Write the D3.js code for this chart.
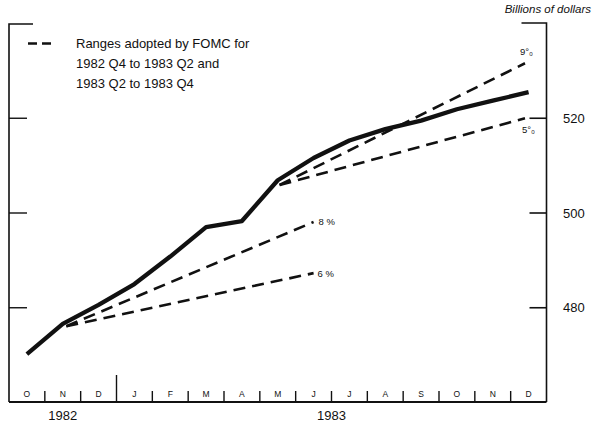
<!DOCTYPE html>
<html>
<head>
<meta charset="utf-8">
<script src="https://cdn.jsdelivr.net/npm/d3@7"></script>
<style>
  html, body { margin: 0; padding: 0; background: #fff; }
  svg { display: block; font-family: "Liberation Sans", Arial, Helvetica, sans-serif; }
</style>
</head>
<body>
<svg id="chart" width="594" height="427"></svg>
<script>
// ---- data ----
const months = ["O","N","D","J","F","M","A","M","J","J","A","S","O","N","D"];
const yearLabels = ["1982", "1983"];
const yearStart = [0, 3];
const yearEnd = [3, 15];
const m1Values = [470.1, 476.5, 480.5, 484.9, 490.7, 496.9, 498.2, 506.8, 511.5, 515.2, 517.6, 519.4, 521.8, 523.6, 525.4];
const yTicks = [480, 500, 520];

// ranges adopted by FOMC (month position, value)
const cone1Start = [1.6, 476.0];
const cone1End = 8.5;
const cone1Names = ["8 %", "6 %"];
const cone1Values = [498.0, 487.2];
const cone2Start = [7.55, 505.8];
const cone2End = 14.4;
const cone2Names = ["9\u00b0\u2080", "5\u00b0\u2080"];
const cone2Values = [531.5, 519.9];

const legendLines = ["Ranges adopted by FOMC for", "1982 Q4 to 1983 Q2 and", "1983 Q2 to 1983 Q4"];

// ---- layout ----
const svg = d3.select("#chart");
const pLeft = 9, pRight = 546.5, pTop = 23, pBottom = 402;
const x = d3.scaleLinear().domain([0, 15]).range([pLeft, pRight]);
const y = d3.scaleLinear().domain([460, 540]).range([pBottom, pTop]);

const ink = "#111";

// frame: left bracket
svg.append("path")
  .attr("d", `M${pLeft + 24},${pTop + 1} H${pLeft} V${pBottom}`)
  .attr("fill", "none").attr("stroke", ink).attr("stroke-width", 1.6);
// right axis bracket
svg.append("path")
  .attr("d", `M${pRight - 25},${pTop} H${pRight} V${pBottom}`)
  .attr("fill", "none").attr("stroke", ink).attr("stroke-width", 1.6);
// bottom axis
svg.append("line")
  .attr("x1", pLeft).attr("x2", pRight).attr("y1", pBottom).attr("y2", pBottom)
  .attr("stroke", ink).attr("stroke-width", 1.8);

// right axis via d3
const yAxisR = d3.axisLeft(y).tickValues(yTicks).tickSize(17).tickFormat("");
const gR = svg.append("g").attr("transform", `translate(${pRight},0)`).call(yAxisR);
gR.select(".domain").remove();
gR.selectAll(".tick line").attr("stroke", ink).attr("stroke-width", 1.6);
// right tick labels
svg.append("g").selectAll("text").data(yTicks).join("text")
  .attr("x", 563).attr("y", d => y(d) + 5)
  .attr("font-size", 13).attr("fill", ink).text(d => d);

// left axis ticks
const yAxisL = d3.axisRight(y).tickValues(yTicks).tickSize(18).tickFormat("");
const gL = svg.append("g").attr("transform", `translate(${pLeft},0)`).call(yAxisL);
gL.select(".domain").remove();
gL.selectAll(".tick line").attr("stroke", ink).attr("stroke-width", 1.4);

// month boundary ticks
const bounds = d3.range(1, 15);
svg.append("g").selectAll("line").data(bounds).join("line")
  .attr("x1", d => x(d)).attr("x2", d => x(d))
  .attr("y1", pBottom).attr("y2", d => yearStart.includes(d) ? pBottom - 27 : pBottom - 11)
  .attr("stroke", ink).attr("stroke-width", 1.4);

// month labels
svg.append("g").selectAll("text").data(months).join("text")
  .attr("x", (d, i) => x(i + 0.5)).attr("y", pBottom - 5)
  .attr("text-anchor", "middle").attr("font-size", 8.5).attr("fill", ink).text(d => d);

// year labels
svg.append("g").selectAll("text").data(yearLabels).join("text")
  .attr("x", (d, i) => x((yearStart[i] + yearEnd[i]) / 2)).attr("y", 420)
  .attr("text-anchor", "middle").attr("font-size", 13).attr("fill", ink).text(d => d);

// units label
svg.append("text").attr("x", 591).attr("y", 13).attr("text-anchor", "end")
  .attr("font-size", 11.5).attr("font-style", "italic").attr("fill", ink).text("Billions of dollars");

// dashed cones
const dash = "12,7";
function drawCone(start, endM, values, names, labelDx, labelDy) {
  values.forEach((v, i) => {
    svg.append("line")
      .attr("x1", x(start[0])).attr("y1", y(start[1]))
      .attr("x2", x(endM)).attr("y2", y(v))
      .attr("stroke", ink).attr("stroke-width", 2.6).attr("stroke-dasharray", dash);
    svg.append("text")
      .attr("x", x(endM) + labelDx[i]).attr("y", y(v) + labelDy[i])
      .attr("font-size", 9.5).attr("fill", ink).text(names[i]);
  });
}
drawCone(cone1Start, cone1End, cone1Values, cone1Names, [5, 4], [3, 4]);
drawCone(cone2Start, cone2End, cone2Values, cone2Names, [-5, -3], [-8, 15]);

// main series
const line = d3.line().x((d, i) => x(i + 0.5)).y(d => y(d));
svg.append("path").datum(m1Values)
  .attr("d", line).attr("fill", "none").attr("stroke", ink)
  .attr("stroke-width", 4.3).attr("stroke-linejoin", "round").attr("stroke-linecap", "butt");

// legend
svg.append("line").attr("x1", 28).attr("x2", 51).attr("y1", 43.5).attr("y2", 43.5)
  .attr("stroke", ink).attr("stroke-width", 2.6).attr("stroke-dasharray", "9,5");
svg.append("g").selectAll("text").data(legendLines).join("text")
  .attr("x", 76).attr("y", (d, i) => 48 + i * 20)
  .attr("font-size", 13).attr("fill", ink).text(d => d);
</script>
</body>
</html>
